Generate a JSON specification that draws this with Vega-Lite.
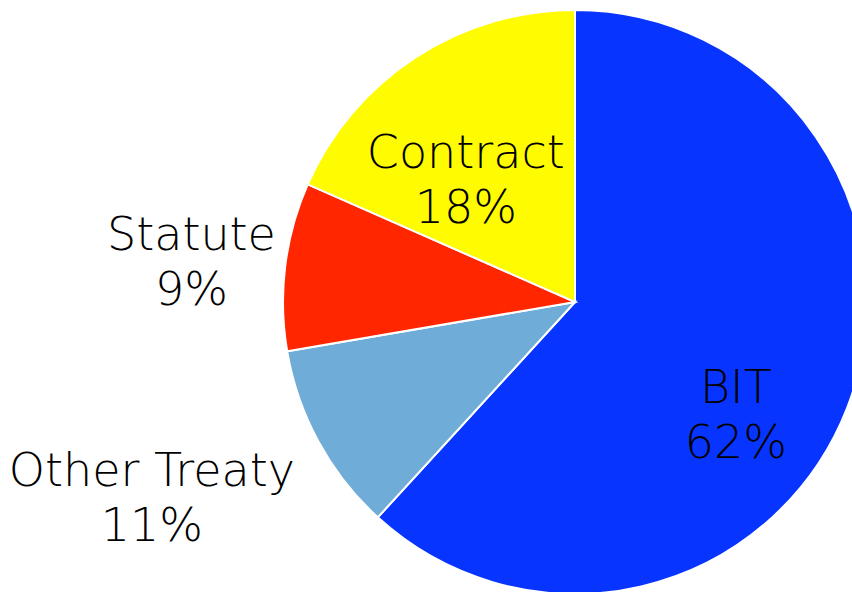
{
  "$schema": "https://vega.github.io/schema/vega-lite/v6.json",
  "width": 554,
  "height": 580,
  "autosize": "none",
  "padding": {"left": 298, "top": 12, "right": 0, "bottom": 0},
  "background": "white",
  "view": {"stroke": null},
  "config": {"text": {"font": "DejaVu Sans", "fontWeight": 200, "fontSize": 46, "lineBreak": "\n", "lineHeight": 55, "dy": -23, "fill": "black"}},
  "data": {"values": [
    {"category": "BIT", "value": 61.8, "label": "62%", "rank": 1},
    {"category": "Other Treaty", "value": 10.5, "label": "11%", "rank": 2},
    {"category": "Statute", "value": 9.3, "label": "9%", "rank": 3},
    {"category": "Contract", "value": 18.4, "label": "18%", "rank": 4}
  ]},
  "transform": [{"calculate": "datum.category + '\\n' + datum.label", "as": "txt"}],
  "encoding": {
    "theta": {"field": "value", "type": "quantitative", "stack": true},
    "order": {"field": "rank", "type": "quantitative"}
  },
  "layer": [
    {
      "mark": {"type": "arc", "outerRadius": 292, "stroke": "white", "strokeWidth": 2},
      "encoding": {
        "color": {"field": "category", "type": "nominal", "legend": null,
          "scale": {"domain": ["BIT", "Other Treaty", "Statute", "Contract"],
                    "range": ["#0735FF", "#6FADD8", "#FF2600", "#FFFB00"]}}
      }
    },
    {
      "mark": {"type": "text", "radius": 166, "thetaOffset": -0.14},
      "encoding": {"detail": {"field": "category"}, "text": {"condition": {"test": "datum.category === 'Contract'", "field": "txt"}, "value": ""}}
    },
    {
      "mark": {"type": "text", "radius": 386, "thetaOffset": -0.01},
      "encoding": {"detail": {"field": "category"}, "text": {"condition": {"test": "datum.category === 'Statute'", "field": "txt"}, "value": ""}}
    },
    {
      "mark": {"type": "text", "radius": 465, "thetaOffset": 0.072},
      "encoding": {"detail": {"field": "category"}, "text": {"condition": {"test": "datum.category === 'Other Treaty'", "field": "txt"}, "value": ""}}
    },
    {
      "mark": {"type": "text", "radius": 195, "thetaOffset": 0.23},
      "encoding": {"detail": {"field": "category"}, "text": {"condition": {"test": "datum.category === 'BIT'", "field": "txt"}, "value": ""}}
    }
  ]
}
